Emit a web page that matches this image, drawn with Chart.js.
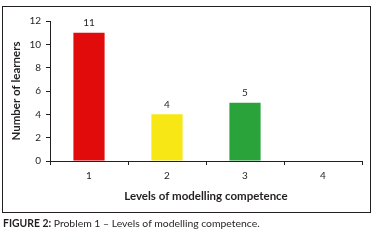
<!DOCTYPE html>
<html><head><meta charset="utf-8">
<script src="https://cdn.jsdelivr.net/npm/chart.js@4/dist/chart.umd.min.js"></script>
<style>
html,body{margin:0;padding:0;background:#fff;}
#wrap{position:absolute;left:0;top:0;width:379px;height:240px;}
#box{position:absolute;left:2px;top:6px;width:367px;height:205px;border:1px solid #231f20;}
#c{position:absolute;left:0;top:0;}
#cap{position:absolute;left:3px;top:217px;font-family:Lato,"Liberation Sans",sans-serif;font-size:10.4px;color:#231f20;white-space:nowrap;}
</style></head>
<body>
<div id="wrap">
<div id="box"></div>
<canvas id="c" width="379" height="240"></canvas>
<div id="cap"><b>FIGURE 2:</b> Problem 1 – Levels of modelling competence.</div>
</div>
<script>
const categories = ["1","2","3","4"];
const learners = [11, 4, 5, 0];
const barColors = ["#e10b0b","#f6e715","#2ba33b","#ffffff"];
const yTicks = [0,2,4,6,8,10,12];
const xTitle = "Levels of modelling competence";
const yTitle = "Number of learners";

const txt = "#231f20";
const fam = 'Lato, "Liberation Sans", sans-serif';

const valueLabels = {
  id:'valueLabels',
  afterDatasetsDraw(chart){
    const ctx = chart.ctx;
    const meta = chart.getDatasetMeta(0);
    ctx.save();
    ctx.font = '10px ' + fam;
    ctx.fillStyle = txt;
    ctx.textAlign = 'center';
    ctx.textBaseline = 'bottom';
    meta.data.forEach((bar,i)=>{
      const v = learners[i];
      if (v > 0) ctx.fillText(String(v), bar.x, bar.y - 5);
    });
    ctx.restore();
  }
};

new Chart(document.getElementById('c'), {
  type:'bar',
  data:{labels:categories, datasets:[{data:learners, backgroundColor:barColors, borderWidth:0, barPercentage:0.4, categoryPercentage:1}]},
  options:{
    responsive:false, animation:false,
    layout:{padding:{top:21,right:17,left:0,bottom:37}},
    plugins:{legend:{display:false}, tooltip:{enabled:false}},
    scales:{
      x:{
        grid:{display:true, drawOnChartArea:false, tickLength:4, color:txt, offset:true},
        border:{color:txt, width:1},
        ticks:{color:txt, font:{family:fam,size:10}, padding:5},
        title:{display:true, text:xTitle, color:txt, font:{family:fam,size:11.5,weight:'bold'}, padding:{top:4,bottom:0}},
        afterFit(s){ s.height = 42; }
      },
      y:{
        min:0, max:12,
        afterBuildTicks(s){ s.ticks = yTicks.map(v=>({value:v})); },
        grid:{display:true, drawOnChartArea:false, tickLength:4, color:txt},
        border:{color:txt, width:1},
        ticks:{color:txt, font:{family:fam,size:10}, padding:5},
        title:{display:true, text:yTitle, color:txt, font:{family:fam,size:11.5,weight:'bold'}, padding:{top:9,bottom:4}},
        afterFit(s){ s.width = 50; }
      }
    }
  },
  plugins:[valueLabels]
});
</script>
</body></html>
